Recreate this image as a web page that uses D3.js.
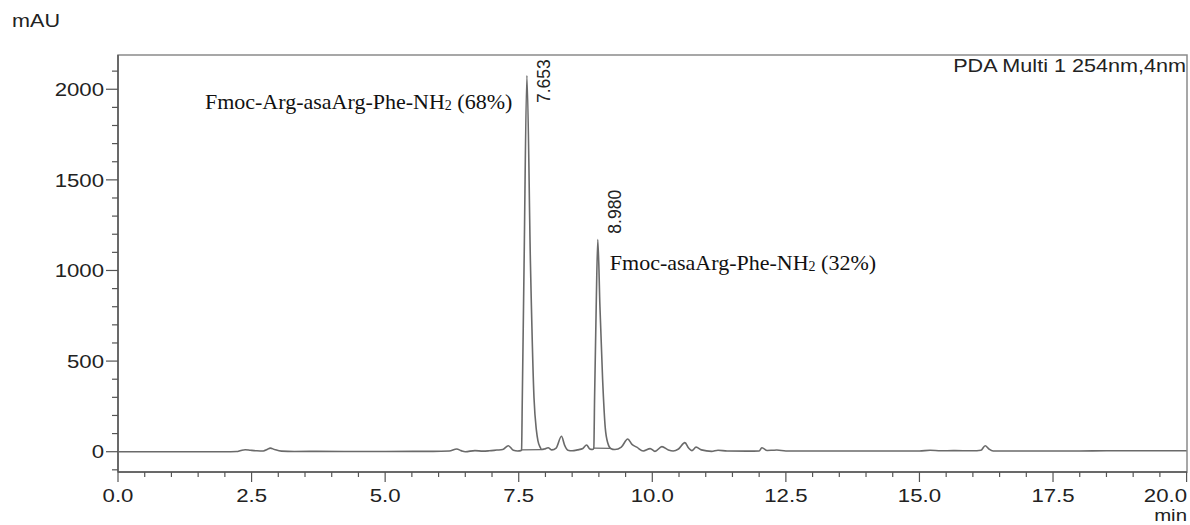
<!DOCTYPE html>
<html>
  <head>
    <style>
      body { margin: 0; background: #fff; }
      .tick-label {
        font-family: Arial, 'Liberation Sans', sans-serif;
        font-size: 18.5px;
        fill: #222;
      }
      .peak-name {
        font-family: 'Times New Roman', 'Liberation Serif', serif;
        font-size: 22px;
        fill: #111;
      }
    </style>
  </head>
  <body>
    <script src="https://d3js.org/d3.v7.min.js"></script>
    <script>
      // chromatogram trace: time (min), absorbance (mAU)
      var traceTime = [0.0, 1.0, 2.0, 2.22, 2.30, 2.38, 2.48, 2.60, 2.72, 2.79, 2.85, 2.93, 3.06, 3.30, 3.72, 4.50, 5.00, 5.52, 5.90, 6.20, 6.34, 6.42, 6.50, 6.68, 6.83, 6.95, 7.09, 7.20, 7.305, 7.40, 7.48, 7.54, 7.553, 7.567, 7.60, 7.653, 7.72, 7.786, 7.83, 7.86, 7.90, 7.93, 7.98, 8.05, 8.12, 8.20, 8.30, 8.36, 8.42, 8.50, 8.60, 8.70, 8.77, 8.83, 8.88, 8.905, 8.92, 8.95, 8.98, 9.02, 9.07, 9.12, 9.17, 9.22, 9.30, 9.42, 9.54, 9.62, 9.71, 9.83, 9.96, 10.05, 10.18, 10.30, 10.39, 10.49, 10.61, 10.68, 10.74, 10.82, 10.92, 11.11, 11.23, 11.40, 11.80, 12.00, 12.05, 12.15, 12.25, 12.33, 12.50, 13.0, 14.0, 15.0, 15.20, 15.40, 15.63, 16.00, 16.15, 16.23, 16.30, 16.38, 17.0, 18.0, 18.5, 19.0, 20.0];
      var traceValue = [0, 0, 0, 1, 7, 11, 8, 5, 4, 12, 20, 12, 3, 1, 2, 1, 1, 2, 2, 4, 15, 6, 0, 6, 3, 5, 9, 12, 33, 8, 4, 6, 10, 296, 1030, 2075, 1030, 296, 120, 60, 25, 12, 15, 22, 10, 20, 85, 35, 8, 5, 10, 18, 37, 15, 12, 20, 300, 800, 1170, 800, 400, 130, 45, 18, 12, 25, 70, 40, 25, 4, 17, 2, 28, 10, 4, 15, 50, 20, 6, 25, 10, 2, 8, 4, 3, 4, 22, 7, 8, 9, 4, 4, 4, 4, 8, 5, 6, 5, 8, 33, 15, 4, 4, 4, 5, 5, 5];

      // labelled peaks
      var peakTime = [7.653, 8.980];
      var peakHeight = [2075, 1170];
      var peakNames = ["Fmoc-Arg-asaArg-Phe-NH", "Fmoc-asaArg-Phe-NH"];
      var peakShares = [" (68%)", " (32%)"];
      // integration start / end of each peak
      var peakStart = [[7.553, 10], [8.905, 20]];
      var peakEnd = [[7.93, 12], [9.22, 18]];

      var xTicks = [0.0, 2.5, 5.0, 7.5, 10.0, 12.5, 15.0, 17.5, 20.0];
      var yTicks = [0, 500, 1000, 1500, 2000];
      var yLabel = "mAU";
      var xLabel = "min";
      var channel = "PDA Multi 1 254nm,4nm";

      var width = 1190, height = 525;
      var margin = { top: 55, right: 3, bottom: 53, left: 118 };
      var inner = width - margin.right;
      var floor = height - margin.bottom;
      var stretch = 1.2; // the original print is a bit wider than Arial

      var svg = d3.select("body").append("svg")
        .attr("width", width)
        .attr("height", height);

      var x = d3.scaleLinear().domain([0, 20]).range([margin.left, 1186.6]);
      var y = d3.scaleLinear().domain([-112, 2189]).range([floor, margin.top]);

      function place(px, py) {
        return "translate(" + px + "," + py + ") scale(" + stretch + ",1)";
      }

      // frame
      svg.append("rect")
        .attr("x", margin.left).attr("y", margin.top)
        .attr("width", inner - margin.left).attr("height", floor - margin.top)
        .attr("fill", "none").attr("stroke", "#8a8a8a").attr("stroke-width", 1.5);

      // x axis: minor ticks every 0.5 min, labelled every 2.5
      var xMinor = d3.range(0, 20.001, 0.5);
      svg.append("g").selectAll("line").data(xMinor).enter().append("line")
        .attr("x1", function(d) { return x(d); })
        .attr("x2", function(d) { return x(d); })
        .attr("y1", floor)
        .attr("y2", function(d) { return xTicks.indexOf(d) >= 0 ? floor + 10 : floor + 5; })
        .attr("stroke", "#555").attr("stroke-width", 1.2);

      svg.append("g").selectAll("text").data(xTicks).enter().append("text")
        .attr("class", "tick-label")
        .attr("text-anchor", function(d, i) { return i == xTicks.length - 1 ? "end" : "middle"; })
        .attr("transform", function(d, i) {
          return place(i == xTicks.length - 1 ? 1187 : x(d), 502);
        })
        .text(function(d) { return d.toFixed(1); });

      // y axis: minor ticks every 100, labelled every 500
      var yMinor = d3.range(-100, 2101, 100);
      svg.append("g").selectAll("line").data(yMinor).enter().append("line")
        .attr("x1", function(d) { return yTicks.indexOf(d) >= 0 ? margin.left - 12 : margin.left - 6; })
        .attr("x2", margin.left)
        .attr("y1", function(d) { return y(d); })
        .attr("y2", function(d) { return y(d); })
        .attr("stroke", "#555").attr("stroke-width", 1.2);

      svg.append("g").selectAll("text").data(yTicks).enter().append("text")
        .attr("class", "tick-label")
        .attr("transform", function(d) { return place(margin.left - 14, y(d)); })
        .attr("dy", "0.36em")
        .attr("text-anchor", "end")
        .text(function(d) { return d; });

      svg.append("line")
        .attr("x1", margin.left).attr("x2", margin.left)
        .attr("y1", margin.top).attr("y2", floor)
        .attr("stroke", "#555").attr("stroke-width", 1.5);
      svg.append("line")
        .attr("x1", margin.left).attr("x2", inner)
        .attr("y1", floor).attr("y2", floor)
        .attr("stroke", "#555").attr("stroke-width", 1.5);

      svg.append("text").attr("class", "tick-label")
        .attr("transform", place(12, 27))
        .style("font-size", "18px")
        .text(yLabel);
      svg.append("text").attr("class", "tick-label")
        .attr("transform", place(1187, 521))
        .attr("text-anchor", "end")
        .style("font-size", "17px")
        .text(xLabel);
      svg.append("text").attr("class", "tick-label")
        .attr("transform", place(1186, 72))
        .attr("text-anchor", "end")
        .style("font-size", "18px")
        .text(channel);

      // trace
      var points = traceTime.map(function(t, i) { return [t, traceValue[i]]; });
      var line = d3.line()
        .x(function(d) { return x(d[0]); })
        .y(function(d) { return y(d[1]); })
        .curve(d3.curveMonotoneX);

      svg.append("path")
        .datum(points)
        .attr("d", line)
        .attr("fill", "none")
        .attr("stroke", "#6a6a6a")
        .attr("stroke-width", 1.6)
        .attr("stroke-linejoin", "round");

      // integration baselines under the two main peaks
      svg.append("g").selectAll("line").data(peakStart).enter().append("line")
        .attr("x1", function(d) { return x(d[0]); })
        .attr("y1", function(d) { return y(d[1]); })
        .attr("x2", function(d, i) { return x(peakEnd[i][0]); })
        .attr("y2", function(d, i) { return y(peakEnd[i][1]); })
        .attr("stroke", "#6a6a6a").attr("stroke-width", 1.2);

      // retention time labels, rotated
      svg.append("g").selectAll("text").data(peakTime).enter().append("text")
        .attr("class", "tick-label")
        .style("font-size", "17.5px")
        .attr("transform", function(d, i) {
          var px = x(d) + 23;
          var py = Math.max(y(peakHeight[i]) - 6, 103);
          return "translate(" + px + "," + py + ") rotate(-90)";
        })
        .text(function(d) { return d.toFixed(3); });

      // compound names
      var nameX = [x(peakTime[0]) - 322, x(peakTime[1]) + 12];
      var nameY = [109, 270];
      var names = svg.append("g").selectAll("text").data(peakNames).enter().append("text")
        .attr("class", "peak-name")
        .attr("x", function(d, i) { return nameX[i]; })
        .attr("y", function(d, i) { return nameY[i]; });
      names.append("tspan").text(function(d) { return d; });
      names.append("tspan").style("font-size", "14px").attr("dy", 1).text("2");
      names.append("tspan").attr("dy", -1).text(function(d, i) { return peakShares[i]; });
    </script>
  </body>
</html>
